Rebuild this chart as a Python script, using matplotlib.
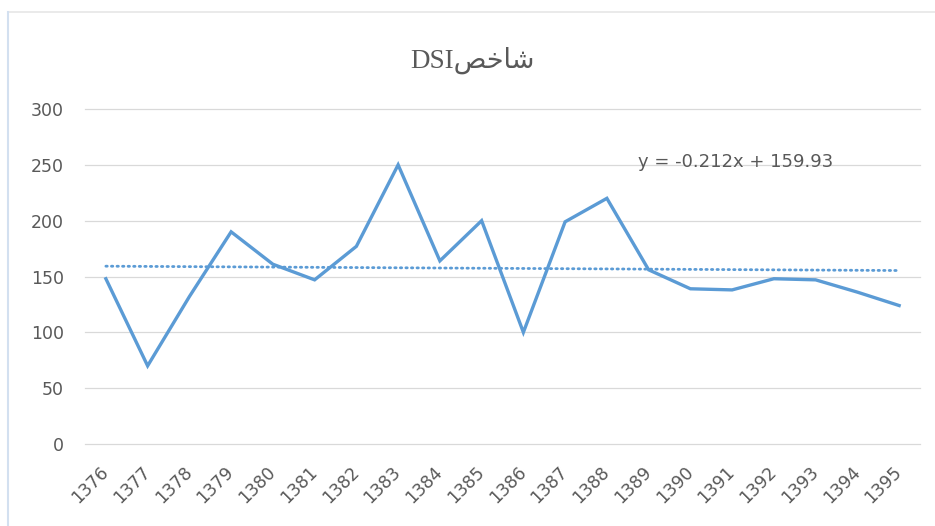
import numpy as np
import matplotlib
matplotlib.use("Agg")
import matplotlib.pyplot as plt
from matplotlib.lines import Line2D

years = ['1376', '1377', '1378', '1379', '1380', '1381', '1382', '1383', '1384', '1385',
         '1386', '1387', '1388', '1389', '1390', '1391', '1392', '1393', '1394', '1395']
dsi = [148, 70, 132, 190, 161, 147, 177, 250, 164, 200,
       100, 199, 220, 156, 139, 138, 148, 147, 136, 124]
y_ticks = [0, 50, 100, 150, 200, 250, 300]
trend_label = 'y = -0.212x + 159.93'
# "شاخص" in visual (presentation-form) order after "DSI"
title_text = 'DSI' + '\ufeba\ufea7\ufe8e\ufeb7'

W, H = 935, 526
fig = plt.figure(figsize=(W / 100, H / 100), dpi=100)
fig.patch.set_facecolor('white')

left, right, top, bottom = 85, 920, 109, 444
ax = fig.add_axes([left / W, 1 - bottom / H, (right - left) / W, (bottom - top) / H])

x = np.arange(len(years))
line_color = '#5B9BD5'
ax.plot(x, dsi, color=line_color, lw=2.4, solid_joinstyle='miter', zorder=3)

# linear trendline (Excel uses x = 1..n)
xi = np.arange(1, len(dsi) + 1)
slope, intercept = np.polyfit(xi, dsi, 1)
ax.plot(x, slope * xi + intercept, color=line_color, lw=2.0, linestyle=(0, (0.5, 1.5)),
        dash_capstyle='round', zorder=2)

ax.set_xlim(-0.5, len(years) - 0.5)
ax.set_ylim(0, 300)
ax.set_yticks(y_ticks)
ax.set_xticks(x)
ax.set_xticklabels(years, rotation=45, ha='right', va='center', rotation_mode='anchor')
ax.grid(axis='y', color='#D9D9D9', lw=0.9)
for gl in ax.get_ygridlines():
    gl.set_clip_on(False)
ax.set_axisbelow(True)
for s in ax.spines.values():
    s.set_visible(False)
ax.tick_params(axis='both', length=0, labelsize=12.5, labelcolor='#595959')
ax.tick_params(axis='y', pad=15)
ax.tick_params(axis='x', pad=18)
for lab in ax.get_yticklabels() + ax.get_xticklabels():
    lab.set_fontfamily('DejaVu Sans')

ax.text(0.662, 252.5, trend_label, transform=ax.get_yaxis_transform(),
        ha='left', va='center', fontsize=13, color='#595959', family='DejaVu Sans')

fig.text(472 / W, 1 - 60 / H, title_text, ha='center', va='center', fontsize=19.5,
         color='#595959', family=['Liberation Serif', 'DejaVu Sans'])

# chart border
fig.add_artist(Line2D([8 / W, 1], [1 - 12 / H, 1 - 12 / H], color='#E6E6E6', lw=1.2,
                      transform=fig.transFigure))
fig.add_artist(Line2D([8 / W, 8 / W], [0, 1 - 12 / H], color='#D3E0F0', lw=1.5,
                      transform=fig.transFigure))

fig.savefig('out.png', dpi=100, facecolor='white')
